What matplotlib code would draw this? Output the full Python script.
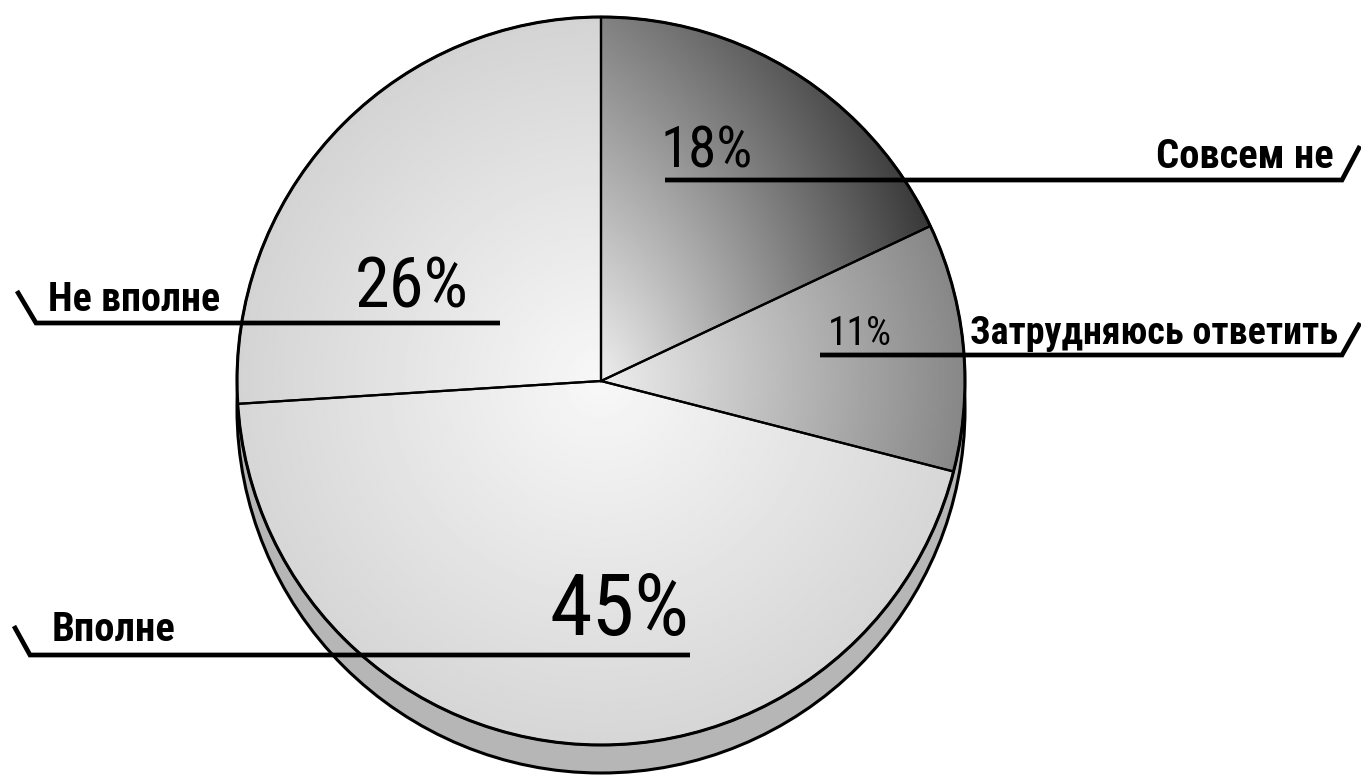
import numpy as np
import matplotlib
matplotlib.use("Agg")
import matplotlib.pyplot as plt
from matplotlib import font_manager
from matplotlib.patches import Circle

# survey answers, clockwise from 12 o'clock
categories = ["Совсем не", "Затрудняюсь ответить", "Вполне", "Не вполне"]
shares = [18, 11, 45, 26]
pct_labels = [f"{v}%" for v in shares]

W, H = 1361, 781
CX, CY, R = 601, H - 381, 364
DEPTH = 28


def Y(y):
    # picture rows run downwards, data y runs upwards
    return H - y


def pick_font(cands):
    names = {f.name for f in font_manager.fontManager.ttflist}
    for fam, stretch in cands:
        if fam in names:
            if stretch == "normal":
                return fam, stretch
            for f in font_manager.fontManager.ttflist:
                if f.name == fam and f.stretch not in ("normal", 500):
                    return fam, stretch
    return "Liberation Sans", "normal"


narrow_cands = [
    ("Liberation Sans Narrow", "normal"),
    ("Roboto Condensed", "normal"),
    ("DejaVu Sans", "condensed"),
    ("Open Sans Condensed", "normal"),
]
FONT, STRETCH = pick_font(narrow_cands)

fig = plt.figure(figsize=(W / 100, H / 100), dpi=100)
ax = fig.add_axes([0, 0, 1, 1])

wedges, _ = ax.pie(
    shares,
    startangle=90,
    counterclock=False,
    radius=R,
    center=(CX, CY),
    wedgeprops={"fill": False, "edgecolor": "black", "linewidth": 1.6, "zorder": 4},
)

# grey rim of the disc
ax.add_patch(Circle((CX, CY - DEPTH), R, facecolor="#b6b6b6", edgecolor="black",
                    linewidth=2.2, zorder=1))
ax.add_patch(Circle((CX, CY), R, facecolor="white", edgecolor="none", zorder=1.5))

# gradient fills clipped to each wedge
gx = np.linspace(CX - R, CX + R, 400)
gy = np.linspace(CY - R, CY + R, 400)
GX, GY = np.meshgrid(gx, gy)
xn = (GX - CX) / R
yn = (GY - CY) / R
rho = np.hypot(xn, yn)

shade = {
    0: 0.93 - 0.42 * rho - 0.32 * np.clip(xn, 0, None),
    1: 0.93 - 0.40 * rho,
    2: 0.97 - 0.13 * rho,
    3: 0.97 - 0.14 * rho,
}
for i, w in enumerate(wedges):
    im = ax.imshow(np.clip(shade[i], 0, 1), cmap="gray", vmin=0, vmax=1,
                   extent=(CX - R, CX + R, CY - R, CY + R), origin="lower",
                   interpolation="bilinear", zorder=2)
    im.set_clip_path(w)

ax.add_patch(Circle((CX, CY), R, fill=False, edgecolor="black", linewidth=2.2, zorder=5))

# leader lines: (inner x, y, outer x, tip x, tip y) in picture pixels
leaders = [
    (665, 180, 1342, 1360, 146),
    (820, 355, 1342, 1360, 323),
    (690, 655, 30, 14, 626),
    (500, 323, 36, 17, 291),
]
for x0, y0, x1, xt, yt in leaders:
    ax.plot([x0, x1, xt], [Y(y0), Y(y0), Y(yt)], color="black", linewidth=3.4,
            solid_joinstyle="miter", solid_capstyle="butt", zorder=6)

# category names: (anchor x, baseline y, ha, target width)
cat_pos = [
    (1334, 168, "right", 178),
    (970, 344, "left", 368),
    (52, 641, "left", 124),
    (48, 311, "left", 172),
]
# percentages: (centre x, baseline y, target width, max size)
pct_pos = [
    (707, 167, 92, 56),
    (860, 345, 64, 32),
    (620, 635, 140, 78),
    (412, 308, 114, 66),
]

renderer = fig.canvas.get_renderer()


def fit_text(t, width, max_size):
    bb = t.get_window_extent(renderer)
    size = t.get_fontsize() * width / bb.width
    t.set_fontsize(min(size, max_size))


for name, (x, y, ha, tw) in zip(categories, cat_pos):
    t = ax.text(x, Y(y), name, ha=ha, va="baseline", fontsize=30, fontweight="bold",
                family=FONT, stretch=STRETCH, color="black", zorder=7)
    fit_text(t, tw, 44)

for lab, (x, y, tw, ms) in zip(pct_labels, pct_pos):
    t = ax.text(x, Y(y), lab, ha="center", va="baseline", fontsize=40,
                family=FONT, stretch=STRETCH, color="black", zorder=7)
    fit_text(t, tw, ms)

ax.set_xlim(0, W)
ax.set_ylim(0, H)
ax.set_aspect("equal")
ax.axis("off")
fig.savefig("out.png", dpi=100, facecolor="white")
